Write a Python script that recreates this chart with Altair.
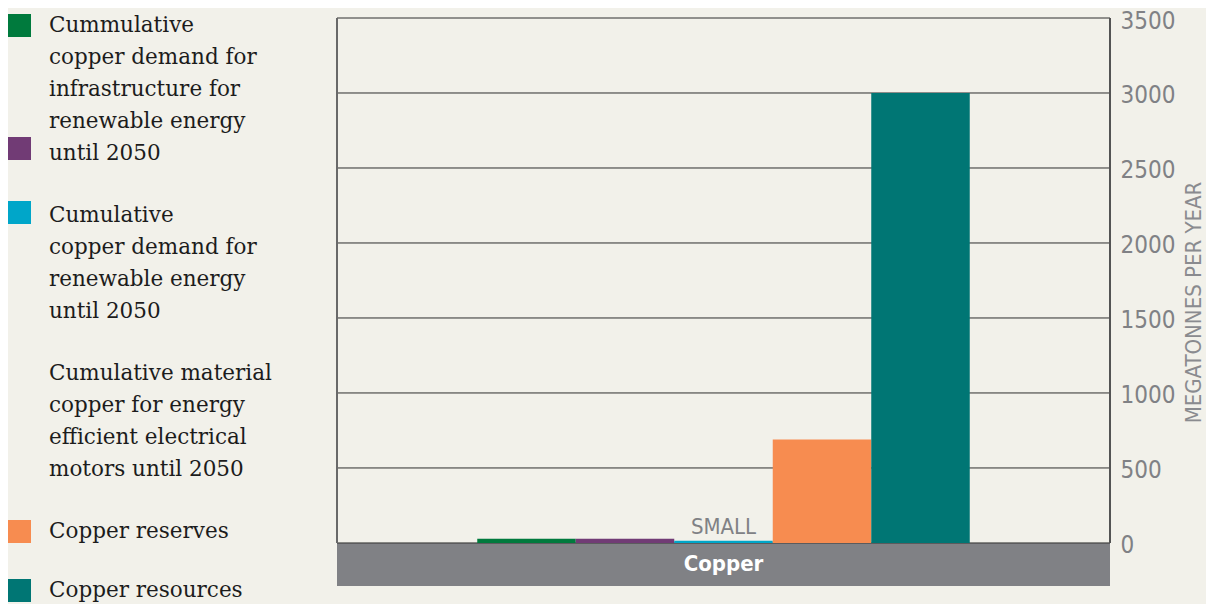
import altair as alt
import pandas as pd

# ---- data ----
group_name = "Copper"
series = [
    "Cummulative copper demand for infrastructure for renewable energy until 2050",
    "Cumulative copper demand for renewable energy until 2050",
    "Cumulative material copper for energy efficient electrical motors until 2050",
    "Copper reserves",
    "Copper resources",
]
values = [28, 28, 15, 690, 3000]
colors = ["#007a3d", "#713b75", "#00a6c9", "#f78c50", "#007674"]
legend_lines = [
    ["Cummulative", "copper demand for", "infrastructure for", "renewable energy", "until 2050"],
    ["Cumulative", "copper demand for", "renewable energy", "until 2050"],
    ["Cumulative material", "copper for energy", "efficient electrical", "motors until 2050"],
    ["Copper reserves"],
    ["Copper resources"],
]
y_ticks = [0, 500, 1000, 1500, 2000, 2500, 3000, 3500]
annotation = "SMALL"
y_title = "MEGATONNES PER YEAR"

df = pd.DataFrame({"group": group_name, "series": series, "value": values})
grid_df = pd.DataFrame({"tick": y_ticks})

# ---- layout ----
W, H = 773, 568
BAND = 287  # depth of grey category band, in data units below zero
NARROW = "DejaVu Sans Condensed, sans-serif"
SERIF = "DejaVu Serif, Liberation Serif, serif"
GREY = "#808185"

y_scale = alt.Scale(domain=[-BAND, 3500], nice=False, zero=False)
x_scale = alt.Scale(domain=series, range=[140.25, 632.75], paddingInner=0, paddingOuter=0)

base = alt.Chart(df)

band = base.mark_rect(color="#808185").encode(
    x=alt.value(0), x2=alt.value(W),
    y=alt.datum(0, scale=y_scale), y2=alt.datum(-BAND),
)

grid = alt.Chart(grid_df).mark_rule(color="#2e2e2e", strokeWidth=1).encode(
    x=alt.value(0), x2=alt.value(W), y=alt.Y("tick:Q", scale=y_scale))

bars = base.mark_bar().encode(
    x=alt.X("series:N", sort=series, scale=x_scale, axis=None),
    y=alt.Y("value:Q", scale=y_scale,
            axis=alt.Axis(orient="right", values=y_ticks, grid=False, format="d",
                          domain=False, ticks=False, labelPadding=10, labelOffset=3,
                          labelFont=NARROW, labelFontSize=24, labelColor=GREY,
                          title=y_title, titleFont=NARROW, titleFontSize=22,
                          titleFontWeight="normal", titleColor="#8a8b8f",
                          titleAngle=270, titleBaseline="top", titlePadding=9)),
    y2=alt.datum(0),
    color=alt.Color("series:N", scale=alt.Scale(domain=series, range=colors), legend=None),
)

left_line = base.mark_rule(color="#6a6a6a", strokeWidth=1.5).encode(
    x=alt.value(0), y=alt.datum(0), y2=alt.datum(3500))
right_line = base.mark_rule(color="#555555", strokeWidth=1.5).encode(
    x=alt.value(W), y=alt.datum(0), y2=alt.datum(3500))

small = alt.Chart(df[df["series"] == series[2]]).mark_text(
    baseline="alphabetic", dy=-7, font=NARROW, fontSize=22, color=GREY
).encode(x=alt.X("series:N", sort=series, scale=x_scale, axis=None),
         y=alt.Y("value:Q", scale=y_scale), text=alt.value(annotation))

cat_label = alt.Chart(pd.DataFrame({"group": [group_name]})).mark_text(
    baseline="middle", font=NARROW, fontSize=22, fontWeight="bold", color="white"
).encode(x=alt.value(W / 2), y=alt.datum(-BAND / 2), text="group:N")

# ---- legend (drawn to the left of the plot) ----
sq_x, sq_size, txt_x = -329, 23, -288
sq_tops = [-4, 119, 183, 502, 561]
txt_baselines = [14, 204, 362, 520, 579]
legend_layers = []
for i, (c, lines) in enumerate(zip(colors, legend_lines)):
    legend_layers.append(
        alt.Chart(pd.DataFrame({"s": [series[i]]})).mark_rect(color=c).encode(
            x=alt.value(sq_x), x2=alt.value(sq_x + sq_size),
            y=alt.value(sq_tops[i]), y2=alt.value(sq_tops[i] + sq_size)))
    legend_layers.append(
        alt.Chart(pd.DataFrame({"t": [lines]})).mark_text(
            align="left", baseline="alphabetic", font=SERIF, fontSize=21.5,
            lineHeight=32, color="#1c1c1c"
        ).encode(x=alt.value(txt_x), y=alt.value(txt_baselines[i]), text="t"))

chart = alt.layer(band, grid, bars, left_line, right_line, small, cat_label, *legend_layers).properties(
    width=W, height=H,
    autosize=alt.AutoSizeParams(type="none"),
    padding={"left": 329, "top": 10, "right": 96, "bottom": 30},
    background="#f2f1ea",
).configure_view(stroke=None)

chart.save("out.html", embed_options={"renderer": "svg", "actions": False})
